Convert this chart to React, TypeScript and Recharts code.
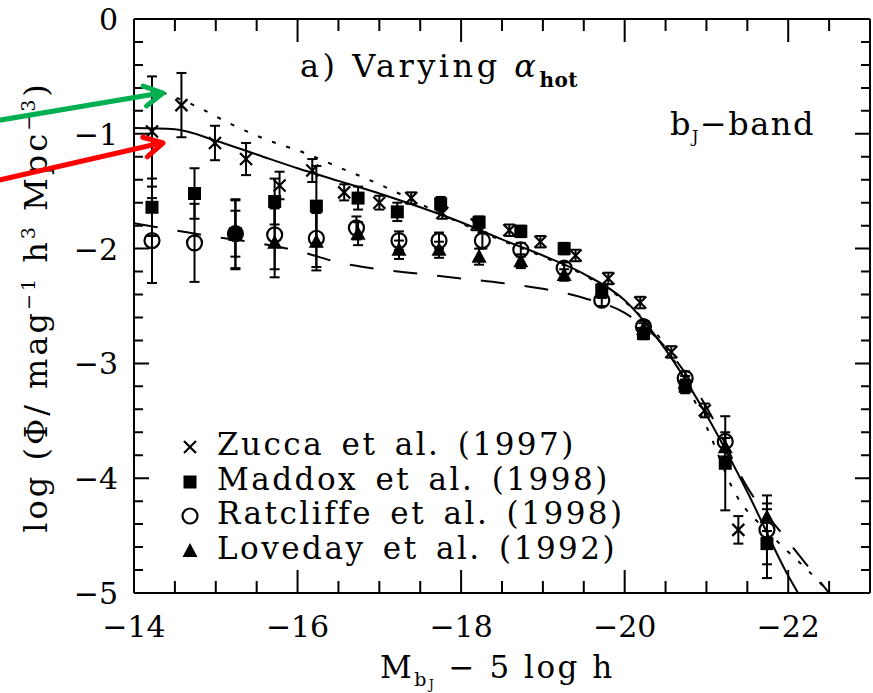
import { ComposedChart, Line, Scatter, ErrorBar, XAxis, YAxis, Legend } from 'recharts';

const SERIF = "'DejaVu Serif', serif";

// axis ticks (minor every 0.5 mag / 0.2 dex)
const xTicks = [-14, -14.5, -15, -15.5, -16, -16.5, -17, -17.5, -18, -18.5, -19, -19.5, -20, -20.5, -21, -21.5, -22, -22.5, -23];
const xLabels = [-14, -16, -18, -20, -22];
const yTicks = [0, -0.2, -0.4, -0.6, -0.8, -1, -1.2, -1.4, -1.6, -1.8, -2, -2.2, -2.4, -2.6, -2.8, -3, -3.2, -3.4, -3.6, -3.8, -4, -4.2, -4.4, -4.6, -4.8, -5];
const yLabels = [0, -1, -2, -3, -4, -5];

// model curves
const solidMag = [-14, -14.5, -15, -15.5, -16, -16.5, -17, -17.5, -18, -18.5, -19, -19.5, -20, -20.5, -21, -21.5, -22, -22.12];
const solidPhi = [-0.95, -0.96, -1.06, -1.18, -1.3, -1.41, -1.52, -1.64, -1.77, -1.92, -2.06, -2.22, -2.45, -2.88, -3.45, -4.12, -4.85, -5.0];

const dottedMag = [-14.35, -14.76, -15.17, -15.58, -16.1, -16.5, -17, -17.5, -18, -18.5, -19, -19.5, -20, -20.5, -21, -21.35, -21.8, -22.4, -22.5];
const dottedPhi = [-0.64, -0.76, -0.91, -1.04, -1.17, -1.29, -1.44, -1.61, -1.78, -1.93, -2.07, -2.23, -2.46, -2.85, -3.55, -4.13, -4.5, -4.92, -5.0];

const dashedMag = [-14, -14.5, -15, -15.5, -16, -16.5, -17, -17.5, -18, -18.5, -19, -19.5, -20, -20.5, -21, -21.5, -22, -22.5];
const dashedPhi = [-1.78, -1.84, -1.9, -1.95, -2.02, -2.12, -2.18, -2.22, -2.26, -2.3, -2.35, -2.43, -2.56, -2.86, -3.38, -4.08, -4.55, -5.0];

// data points
const zuccaMag = [-14.22, -14.58, -14.99, -15.37, -15.78, -16.18, -16.57, -17.0, -17.39, -17.77, -18.19, -18.59, -18.97, -19.4, -19.8, -20.19, -20.57, -20.98, -21.39];
const zuccaPhi = [-0.98, -0.75, -1.08, -1.22, -1.45, -1.32, -1.51, -1.6, -1.56, -1.69, -1.79, -1.84, -1.94, -2.06, -2.26, -2.47, -2.9, -3.41, -4.45];
const zuccaErr = [0.48, 0.28, 0.15, 0.14, 0.12, 0.1, 0.07, 0.06, 0.05, 0.05, 0.05, 0.05, 0.05, 0.05, 0.05, 0.05, 0.05, 0.06, 0.12];

const maddoxMag = [-14.22, -14.74, -15.24, -15.72, -16.23, -16.74, -17.22, -17.75, -18.22, -18.73, -19.26, -19.72, -20.23, -20.74, -21.23, -21.74];
const maddoxPhi = [-1.64, -1.52, -1.87, -1.59, -1.63, -1.56, -1.68, -1.61, -1.77, -1.85, -2.0, -2.36, -2.74, -3.2, -3.87, -4.57];
const maddoxErr = [0.25, 0.22, 0.2, 0.2, 0.35, 0.1, 0.08, 0.06, 0.05, 0.05, 0.05, 0.05, 0.05, 0.06, 0.41, 0.3];

const ratcliffeMag = [-14.22, -14.74, -15.24, -15.72, -16.23, -16.72, -17.24, -17.73, -18.26, -18.73, -19.26, -19.72, -20.23, -20.74, -21.23, -21.74];
const ratcliffePhi = [-1.93, -1.95, -1.87, -1.88, -1.91, -1.82, -1.93, -1.93, -1.93, -2.01, -2.17, -2.45, -2.68, -3.13, -3.68, -4.45];
const ratcliffeErr = [0.37, 0.34, 0.3, 0.3, 0.25, 0.1, 0.08, 0.07, 0.07, 0.06, 0.05, 0.05, 0.05, 0.06, 0.08, 0.3];

const lovedayMag = [-15.24, -15.72, -16.23, -16.74, -17.24, -17.73, -18.22, -18.73, -19.26, -19.72, -20.23, -20.74, -21.23, -21.74];
const lovedayPhi = [-1.88, -1.95, -1.94, -1.87, -2.01, -2.01, -2.07, -2.11, -2.23, -2.38, -2.7, -3.17, -3.73, -4.34];
const lovedayErr = [0.3, 0.3, 0.25, 0.1, 0.08, 0.07, 0.07, 0.06, 0.05, 0.05, 0.05, 0.06, 0.08, 0.12];

const seriesNames = ['Zucca et al. (1997)', 'Maddox et al. (1998)', 'Ratcliffe et al. (1998)', 'Loveday et al. (1992)'];

const curve = (mag: number[], phi: number[]) => mag.map((m, i) => ({ x: m, y: phi[i] }));
const points = (mag: number[], phi: number[], err: number[]) => mag.map((m, i) => ({ x: m, y: phi[i], err: err[i] }));

const fmt = (v: number) => (v < 0 ? '\u2212' + Math.abs(v) : String(v));

// plot box (set by the axis widths/heights below)
const W = 873, H = 693;
const LEFT = 134, TOP = 19, RIGHT_W = 3, BOTTOM_H = 100;
const PLOT_W = W - LEFT - RIGHT_W;
const PLOT_H = H - TOP - BOTTOM_H;
const X_MIN = -14, X_MAX = -23, Y_TOP = 0, Y_BOT = -5;
const px = (v: number) => LEFT + ((v - X_MIN) / (X_MAX - X_MIN)) * PLOT_W;
const py = (v: number) => TOP + ((Y_TOP - v) / (Y_TOP - Y_BOT)) * PLOT_H;

const renderBottomLabel = ({ x, y, payload }: any) =>
  xLabels.includes(payload.value) ? (
    <text key={'b' + payload.value} x={x} y={Number(y) + 44} textAnchor="middle" fontSize={30} fontFamily={SERIF} fill="#000">
      {fmt(payload.value)}
    </text>
  ) : (
    <g key={'b' + payload.value} />
  );

const renderLeftLabel = ({ x, y, payload }: any) =>
  yLabels.includes(payload.value) ? (
    <text key={'l' + payload.value} x={Number(x) - 16} y={Number(y) + 11} textAnchor="end" fontSize={30} fontFamily={SERIF} fill="#000">
      {fmt(payload.value)}
    </text>
  ) : (
    <g key={'l' + payload.value} />
  );

const Cross = ({ cx, cy }: any) => (
  <g stroke="#000" strokeWidth={2.2}>
    <line x1={cx - 6} y1={cy - 6} x2={cx + 6} y2={cy + 6} />
    <line x1={cx - 6} y1={cy + 6} x2={cx + 6} y2={cy - 6} />
  </g>
);
const Square = ({ cx, cy }: any) => <rect x={cx - 6.5} y={cy - 6.5} width={13} height={13} fill="#000" />;
const Ring = ({ cx, cy }: any) => <circle cx={cx} cy={cy} r={7.5} fill="none" stroke="#000" strokeWidth={2.2} />;
const Tri = ({ cx, cy }: any) => (
  <polygon points={`${cx},${cy - 8} ${cx + 7.5},${cy + 6} ${cx - 7.5},${cy + 6}`} fill="#000" />
);

const markers = [Cross, Square, Ring, Tri];

const LegendBox = () => (
  <div style={{ fontFamily: SERIF, fontSize: 31, lineHeight: '34.5px', letterSpacing: 2.5, wordSpacing: 5, color: '#000' }}>
    {seriesNames.map((name, i) => {
      const M = markers[i];
      return (
        <div key={name} style={{ display: 'flex', alignItems: 'center', whiteSpace: 'nowrap' }}>
          <svg width={24} height={24} style={{ marginRight: 15, marginTop: 6 }}>
            <M cx={12} cy={12} />
          </svg>
          <span>{name}</span>
        </div>
      );
    })}
  </div>
);

const arrowHead = (x1: number, y1: number, x2: number, y2: number) => {
  const a = Math.atan2(y2 - y1, x2 - x1);
  const L = 21;
  const p1 = [x2 - L * Math.cos(a - 0.5), y2 - L * Math.sin(a - 0.5)];
  const p2 = [x2 - L * Math.cos(a + 0.5), y2 - L * Math.sin(a + 0.5)];
  return `M${p1[0]},${p1[1]} L${x2},${y2} L${p2[0]},${p2[1]}`;
};

// inward tick marks on all four sides
const TickMarks = () => {
  const bottom = TOP + PLOT_H;
  const right = LEFT + PLOT_W;
  let d = '';
  xTicks.forEach((v) => {
    const len = xLabels.includes(v) ? 23 : 12;
    const x = px(v);
    d += `M${x},${bottom}V${bottom - len}M${x},${TOP}V${TOP + len}`;
  });
  yTicks.forEach((v) => {
    const len = yLabels.includes(v) ? 15 : 9;
    const y = py(v);
    d += `M${LEFT},${y}H${LEFT + len}M${right},${y}H${right - len}`;
  });
  return <path d={d} stroke="#000" strokeWidth={2} fill="none" />;
};

const Annotations = () => (
  <svg width={W} height={H} style={{ position: 'absolute', left: 0, top: 0, pointerEvents: 'none' }}>
    <TickMarks />
    <text x={300} y={77} fontSize={32} fontFamily={SERIF} letterSpacing={3.5} fill="#000">
      a) Varying <tspan fontStyle="italic">α</tspan>
      <tspan fontSize={20} fontWeight="bold" dy={10} letterSpacing={0.5}>hot</tspan>
    </text>
    <text x={670} y={135} fontSize={32} fontFamily={SERIF} letterSpacing={1.5} fill="#000">
      b<tspan fontSize={16} dy={7}>J</tspan>
      <tspan dy={-7}>−band</tspan>
    </text>
    <text x={380} y={678} fontSize={31} fontFamily={SERIF} letterSpacing={2.5} fill="#000">
      M<tspan fontSize={19} dy={8}>b</tspan>
      <tspan fontSize={12} dy={3}>J</tspan>
      <tspan dy={-11}>{'  '}− 5 log h</tspan>
    </text>
    <text
      transform="translate(47,307) rotate(-90)"
      textAnchor="middle"
      fontSize={32}
      fontFamily={SERIF}
      letterSpacing={3}
      fill="#000"
    >
      log (Φ/ mag<tspan fontSize={19} dy={-12}>−1</tspan>
      <tspan dy={12}> h</tspan>
      <tspan fontSize={19} dy={-12}>3</tspan>
      <tspan dy={12}> Mpc</tspan>
      <tspan fontSize={19} dy={-12}>−3</tspan>
      <tspan dy={12}>)</tspan>
    </text>
    <g fill="none" strokeWidth={5} strokeLinecap="round" strokeLinejoin="round">
      <line x1={-5} y1={121} x2={161} y2={93} stroke="#00b050" />
      <path d={arrowHead(-5, 121, 163, 93)} stroke="#00b050" />
      <line x1={-5} y1={181} x2={161} y2={143} stroke="#ff0000" />
      <path d={arrowHead(-5, 181, 163, 143)} stroke="#ff0000" />
    </g>
  </svg>
);

const axisLine = { stroke: '#000', strokeWidth: 2 };

export default function App() {
  return (
    <div style={{ position: 'absolute', left: 0, top: 0, width: W, height: H, background: '#fff' }}>
      <ComposedChart width={W} height={H} margin={{ top: 0, right: 0, bottom: 0, left: 0 }}>
        <XAxis
          xAxisId="bottom"
          dataKey="x"
          type="number"
          domain={[X_MAX, X_MIN]}
          reversed
          ticks={xTicks}
          interval={0}
          height={BOTTOM_H}
          tickSize={0}
          tickMargin={0}
          tickLine={false}
          tick={renderBottomLabel}
          axisLine={axisLine}
          allowDataOverflow
        />
        <XAxis
          xAxisId="top"
          orientation="top"
          dataKey="x"
          type="number"
          domain={[X_MAX, X_MIN]}
          reversed
          height={TOP}
          tick={false}
          tickLine={false}
          axisLine={axisLine}
        />
        <YAxis
          yAxisId="left"
          dataKey="y"
          type="number"
          domain={[Y_BOT, Y_TOP]}
          ticks={yTicks}
          interval={0}
          width={LEFT}
          tickSize={0}
          tickMargin={0}
          tickLine={false}
          tick={renderLeftLabel}
          axisLine={axisLine}
          allowDataOverflow
        />
        <YAxis
          yAxisId="right"
          orientation="right"
          dataKey="y"
          type="number"
          domain={[Y_BOT, Y_TOP]}
          width={RIGHT_W}
          tick={false}
          tickLine={false}
          axisLine={axisLine}
        />
        <Line xAxisId="bottom" yAxisId="left" data={curve(dottedMag, dottedPhi)} dataKey="y" type="monotone" stroke="#000" strokeWidth={2} strokeDasharray="4 11" dot={false} isAnimationActive={false} legendType="none" />
        <Line xAxisId="bottom" yAxisId="left" data={curve(dashedMag, dashedPhi)} dataKey="y" type="monotone" stroke="#000" strokeWidth={2} strokeDasharray="24 20" dot={false} isAnimationActive={false} legendType="none" />
        <Line xAxisId="bottom" yAxisId="left" data={curve(solidMag, solidPhi)} dataKey="y" type="monotone" stroke="#000" strokeWidth={2} dot={false} isAnimationActive={false} legendType="none" />
        <Scatter xAxisId="bottom" yAxisId="left" name={seriesNames[0]} data={points(zuccaMag, zuccaPhi, zuccaErr)} shape={<Cross />} isAnimationActive={false}>
          <ErrorBar dataKey="err" direction="y" width={5} stroke="#000" strokeWidth={2} />
        </Scatter>
        <Scatter xAxisId="bottom" yAxisId="left" name={seriesNames[1]} data={points(maddoxMag, maddoxPhi, maddoxErr)} shape={<Square />} isAnimationActive={false}>
          <ErrorBar dataKey="err" direction="y" width={5} stroke="#000" strokeWidth={2} />
        </Scatter>
        <Scatter xAxisId="bottom" yAxisId="left" name={seriesNames[2]} data={points(ratcliffeMag, ratcliffePhi, ratcliffeErr)} shape={<Ring />} isAnimationActive={false}>
          <ErrorBar dataKey="err" direction="y" width={5} stroke="#000" strokeWidth={2} />
        </Scatter>
        <Scatter xAxisId="bottom" yAxisId="left" name={seriesNames[3]} data={points(lovedayMag, lovedayPhi, lovedayErr)} shape={<Tri />} isAnimationActive={false}>
          <ErrorBar dataKey="err" direction="y" width={5} stroke="#000" strokeWidth={2} />
        </Scatter>
        <Legend
          layout="vertical"
          align="center"
          verticalAlign="middle"
          content={<LegendBox />}
          wrapperStyle={{ position: 'absolute', left: 178, top: 427, width: 480 }}
        />
      </ComposedChart>
      <Annotations />
    </div>
  );
}
